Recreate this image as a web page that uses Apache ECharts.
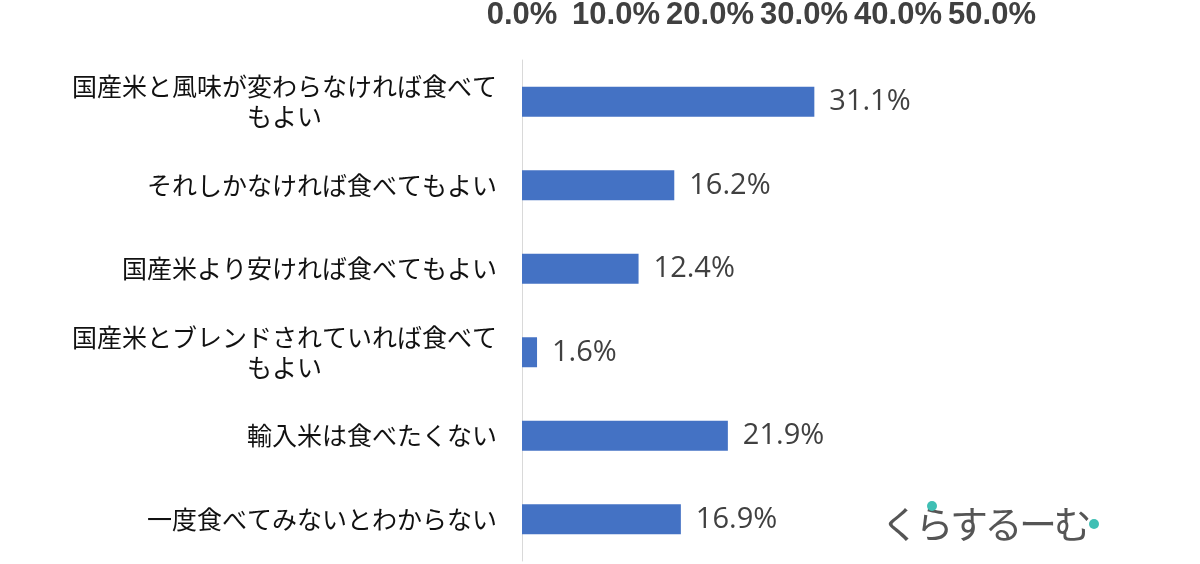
<!DOCTYPE html>
<html>
<head>
<meta charset="utf-8">
<script src="https://cdn.jsdelivr.net/npm/echarts@6/dist/echarts.min.js"></script>
<style>html,body{margin:0;padding:0;background:#fff;}#c{width:1200px;height:564px;}</style>
</head>
<body>
<div id="c"></div>
<script>
const categories = [
  '国産米と風味が変わらなければ食べて\nもよい',
  'それしかなければ食べてもよい',
  '国産米より安ければ食べてもよい',
  '国産米とブレンドされていれば食べて\nもよい',
  '輸入米は食べたくない',
  '一度食べてみないとわからない'
];
const values = [31.1, 16.2, 12.4, 1.6, 21.9, 16.9];
const axisMin = 0, axisMax = 50, axisStep = 10;
const logoText = 'くらするーむ';

const logoChars = Array.from(logoText).map((ch, i) => ({
  type: 'text', left: 881 + i * 34.5, top: 505,
  style: { text: ch, fontSize: 38, fill: '#555555', fontFamily: 'Noto Sans CJK JP, sans-serif' }
}));

const chart = echarts.init(document.getElementById('c'));
chart.setOption({
  animation: false,
  backgroundColor: '#ffffff',
  grid: { left: 522, right: 208, top: 57, bottom: 3, containLabel: false },
  xAxis: {
    type: 'value', position: 'top', min: axisMin, max: axisMax, interval: axisStep,
    axisLine: { show: false }, axisTick: { show: false }, splitLine: { show: false },
    axisLabel: {
      margin: 29, fontSize: 31, fontWeight: 'bold', color: '#404040',
      fontFamily: 'Liberation Sans, Arial, sans-serif',
      formatter: v => v.toFixed(1) + '%'
    }
  },
  yAxis: {
    type: 'category', inverse: true, data: categories,
    axisLine: { show: true, lineStyle: { color: '#d9d9d9', width: 1 } },
    axisTick: { show: false },
    axisLabel: {
      margin: 25, color: '#111111', fontSize: 25, lineHeight: 30,
      fontFamily: 'Noto Sans CJK JP, sans-serif',
      formatter: v => v.split('\n').map(s => '{c|' + s + '}').join('\n'),
      rich: { c: { align: 'center', fontSize: 25, lineHeight: 30, color: '#111111', fontFamily: 'Noto Sans CJK JP, sans-serif' } }
    }
  },
  series: [{
    type: 'bar', data: values, barWidth: 30,
    itemStyle: { color: '#4472c4' },
    label: {
      show: true, position: 'right', distance: 15, color: '#404040', fontSize: 29,
      fontFamily: 'Open Sans, sans-serif',
      formatter: p => p.value.toFixed(1) + '%'
    }
  }],
  graphic: logoChars.concat([
    { type: 'circle', shape: { cx: 932, cy: 506, r: 5 }, style: { fill: '#3fbfb4' } },
    { type: 'circle', shape: { cx: 1094, cy: 524, r: 5 }, style: { fill: '#3fbfb4' } }
  ])
});
</script>
</body>
</html>
